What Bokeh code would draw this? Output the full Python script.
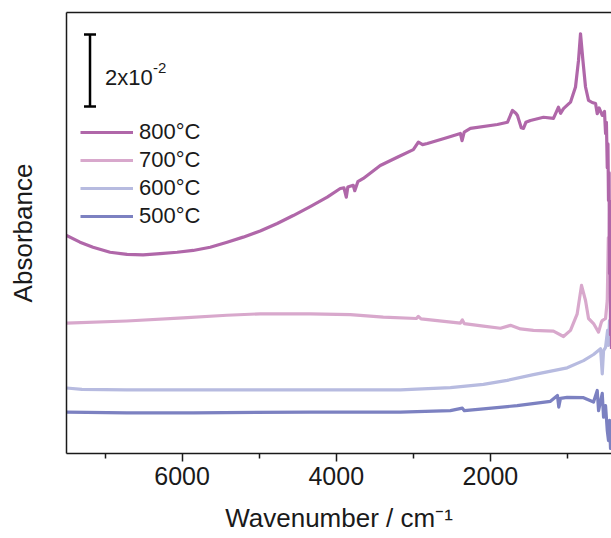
from bokeh.plotting import figure
from bokeh.models import Range1d, LinearAxis, FixedTicker, Legend, LegendItem, Label, ColumnDataSource
from bokeh.embed import file_html
from bokeh.resources import INLINE

# ---------------- data ----------------
wn_800 = [7500, 7325, 7156, 6935, 6714, 6506, 6286, 6065, 5857, 5636, 5416, 5208, 4987, 4766,
          4558, 4338, 4117, 3948, 3900, 3870, 3850, 3780, 3760, 3720, 3649, 3429, 3208, 3000,
          2935, 2880, 2818, 2558, 2390, 2368, 2340, 2260, 1909, 1779, 1714, 1670, 1649, 1600,
          1571, 1540, 1481, 1312, 1182, 1117, 1090, 1052, 961, 896, 857, 831, 800, 766, 727,
          680, 636, 614, 590, 549, 520, 506, 495, 484, 475, 468, 460, 455, 448, 442, 436, 429]
abs_800 = [0.0606, 0.0587, 0.0573, 0.0559, 0.0553, 0.0552, 0.0555, 0.0559, 0.0564, 0.0573, 0.0587,
           0.0601, 0.0618, 0.0639, 0.0661, 0.0686, 0.0712, 0.0736, 0.0738, 0.0712, 0.0740, 0.0745,
           0.0730, 0.0755, 0.0764, 0.0800, 0.0823, 0.0844, 0.0865, 0.0858, 0.0861, 0.0878, 0.0889,
           0.0869, 0.0893, 0.0903, 0.0914, 0.0920, 0.0953, 0.0945, 0.0939, 0.0905, 0.0903, 0.0920,
           0.0925, 0.0934, 0.0931, 0.0962, 0.0945, 0.0958, 0.0976, 0.1018, 0.1092, 0.1166, 0.1092,
           0.1018, 0.0981, 0.0975, 0.0972, 0.0944, 0.0960, 0.0939, 0.0950, 0.0889, 0.0920, 0.0794,
           0.0860, 0.0703, 0.0780, 0.0500, 0.0700, 0.0330, 0.0560, 0.0290]

wn_700 = [7500, 6718, 5987, 5419, 4987, 4338, 3818, 3390, 2960, 2935, 2900, 2390, 2364, 2340,
          2091, 1870, 1740, 1610, 1442, 1182, 1052, 961, 874, 818, 766, 727, 662, 597, 560,
          549, 506, 484, 470, 461, 452, 442, 435, 429]
abs_700 = [0.0362, 0.0368, 0.0377, 0.0384, 0.0388, 0.0388, 0.0386, 0.0379, 0.0375, 0.0381, 0.0374,
           0.0362, 0.0371, 0.0361, 0.0354, 0.0348, 0.0356, 0.0346, 0.0342, 0.0340, 0.0325, 0.0342,
           0.0388, 0.0467, 0.0425, 0.0375, 0.0361, 0.0337, 0.0365, 0.0369, 0.0375, 0.0425, 0.0600,
           0.0560, 0.0700, 0.0700, 0.0650, 0.0690]

wn_600 = [7500, 7300, 6718, 5857, 4338, 3169, 2519, 2091, 1783, 1442, 1004, 792, 662, 571, 549,
          532, 506, 480, 468, 455, 442, 429]
abs_600 = [0.0182, 0.0178, 0.0177, 0.0177, 0.0177, 0.0177, 0.0183, 0.0192, 0.0203, 0.0219, 0.0238,
           0.0258, 0.0275, 0.0291, 0.0221, 0.0286, 0.0295, 0.0342, 0.0300, 0.0369, 0.0310, 0.0328]

wn_500 = [7500, 6718, 5857, 4338, 3169, 2519, 2364, 2338, 2091, 1653, 1221, 1130, 1113, 1091,
          1004, 792, 662, 614, 597, 549, 532, 506, 484, 468, 455, 442, 429]
abs_500 = [0.0115, 0.0113, 0.0113, 0.0115, 0.0115, 0.0119, 0.0126, 0.0119, 0.0124, 0.0133, 0.0145,
           0.0161, 0.0129, 0.0153, 0.0156, 0.0155, 0.0143, 0.0175, 0.0119, 0.0167, 0.0101, 0.0133,
           0.0064, 0.0036, 0.0092, 0.0014, 0.0050]

series_labels = ["800°C", "700°C", "600°C", "500°C"]
series_colors = ["#b067a9", "#d8a8cc", "#b7bbe0", "#7c81c1"]

x_major_ticks = [6000, 4000, 2000]
x_minor_ticks = [7000, 5000, 3000, 1000]
x_start, x_end = 7500, 429
y_start, y_end = 0.0, 0.1225

scale_bar_x = 7195
scale_bar_bottom = 0.0964
scale_bar_length = 0.02
scale_text_x = 7000
scale_text_y = 0.1044

x_title = "Wavenumber / cm⁻¹"
y_title = "Absorbance"
scale_text = "2x10"
scale_text_sup = "-2"

FONT = "Liberation Sans"
INK = "#1a1a1a"

# ---------------- figure ----------------
p = figure(width=611, height=538, output_backend="svg", toolbar_location=None,
           x_range=Range1d(x_start, x_end), y_range=Range1d(y_start, y_end),
           x_axis_location=None, y_axis_location=None,
           min_border_left=66, min_border_top=12, min_border_right=0, min_border_bottom=85)
p.outline_line_color = None
p.xgrid.grid_line_color = None
p.ygrid.grid_line_color = None
p.background_fill_color = "white"

xaxis = LinearAxis(ticker=FixedTicker(ticks=x_major_ticks, minor_ticks=x_minor_ticks),
                   axis_label=x_title)
xaxis.major_tick_in = 0
xaxis.major_tick_out = 8
xaxis.minor_tick_in = 0
xaxis.minor_tick_out = 5
xaxis.axis_line_width = 1.5
xaxis.major_tick_line_width = 1.5
xaxis.minor_tick_line_width = 1.5
xaxis.axis_line_color = INK
xaxis.major_tick_line_color = INK
xaxis.minor_tick_line_color = INK
xaxis.major_label_text_font = FONT
xaxis.major_label_text_font_size = "25px"
xaxis.major_label_text_color = INK
xaxis.major_label_standoff = 5
xaxis.axis_label_text_font = FONT
xaxis.axis_label_text_font_size = "26px"
xaxis.axis_label_text_font_style = "normal"
xaxis.axis_label_text_color = INK
xaxis.axis_label_standoff = 15
p.add_layout(xaxis, "below")

yaxis = LinearAxis(ticker=FixedTicker(ticks=[]), axis_label=y_title)
yaxis.major_tick_out = 0
yaxis.major_tick_in = 0
yaxis.minor_tick_out = 0
yaxis.minor_tick_in = 0
yaxis.major_label_text_font_size = "0px"
yaxis.major_label_standoff = 0
yaxis.axis_line_width = 1.5
yaxis.axis_line_color = INK
yaxis.axis_label_text_font = FONT
yaxis.axis_label_text_font_size = "26px"
yaxis.axis_label_text_font_style = "normal"
yaxis.axis_label_text_color = INK
yaxis.axis_label_standoff = 29
p.add_layout(yaxis, "left")

top_axis = LinearAxis(ticker=FixedTicker(ticks=[]))
top_axis.major_tick_out = 0
top_axis.major_tick_in = 0
top_axis.minor_tick_out = 0
top_axis.minor_tick_in = 0
top_axis.major_label_text_font_size = "0px"
top_axis.major_label_standoff = 0
top_axis.axis_line_width = 1.5
top_axis.axis_line_color = INK
p.add_layout(top_axis, "above")

# ---------------- curves ----------------
xs = [wn_800, wn_700, wn_600, wn_500]
ys = [abs_800, abs_700, abs_600, abs_500]
renderers = {}
for i in [3, 2, 1, 0]:
    src = ColumnDataSource(dict(x=xs[i], y=ys[i]))
    renderers[i] = p.line("x", "y", source=src, line_color=series_colors[i], line_width=3.2,
                          line_join="round")

legend = Legend(items=[LegendItem(label=series_labels[i], renderers=[renderers[i]]) for i in range(4)],
                location=(14, 224))
legend.label_text_font = FONT
legend.label_text_font_size = "22px"
legend.label_text_color = INK
legend.glyph_width = 53
legend.glyph_height = 22
legend.label_height = 22
legend.label_standoff = 6
legend.spacing = 2
legend.padding = 0
legend.margin = 0
legend.border_line_color = None
legend.background_fill_alpha = 0
p.add_layout(legend, "center")

# ---------------- scale bar ----------------
p.segment(x0=[scale_bar_x], y0=[scale_bar_bottom], x1=[scale_bar_x],
          y1=[scale_bar_bottom + scale_bar_length], line_color="black", line_width=2.5)
p.scatter(x=[scale_bar_x, scale_bar_x], y=[scale_bar_bottom, scale_bar_bottom + scale_bar_length],
          marker="dash", size=12, line_color="black", line_width=2.5)
p.add_layout(Label(x=scale_text_x, y=scale_text_y, text=scale_text, text_font=FONT,
                   text_font_size="22px", text_color=INK, text_baseline="alphabetic"))
p.add_layout(Label(x=scale_text_x, y=scale_text_y, x_offset=48, y_offset=10, text=scale_text_sup,
                   text_font=FONT, text_font_size="15px", text_color=INK,
                   text_baseline="alphabetic"))

open("out.html", "w").write(file_html(p, INLINE))
